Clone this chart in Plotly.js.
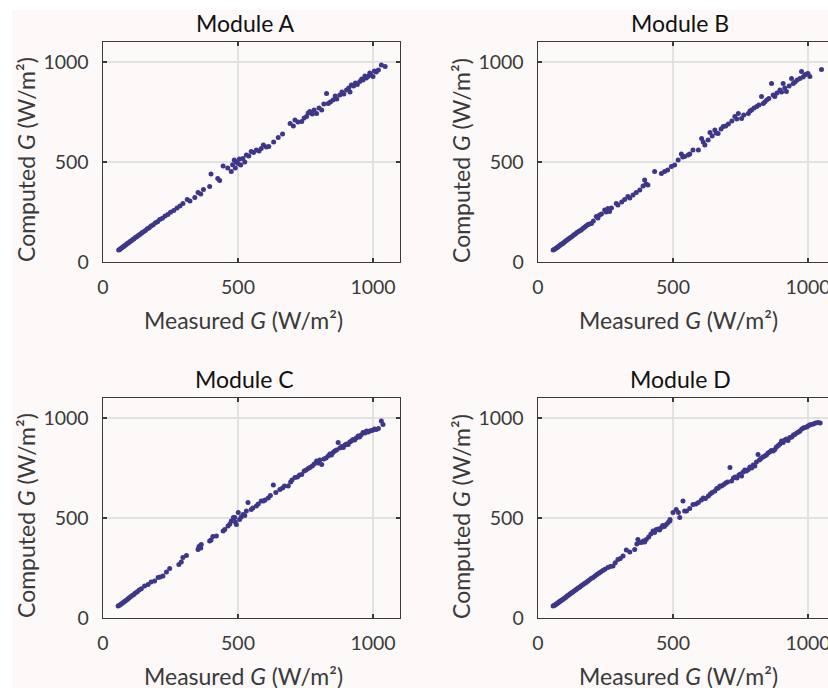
<!DOCTYPE html>
<html>
<head>
<meta charset="utf-8">
<script src="https://cdn.plot.ly/plotly-3.0.1.min.js"></script>
<style>
html,body{margin:0;padding:0;overflow:hidden;background:#fff;}
#chart{width:845px;height:688px;}
</style>
</head>
<body>
<div id="chart"></div>
<script>
// Data: [measured G, computed G] in W/m²
const moduleNames = ["Module A", "Module B", "Module C", "Module D"];
const tickValues = [0, 500, 1000];
const tickLabels = ["0", "500", "1000"];
const axisRange = [0, 1100];

const moduleA = [[58,60],[62,63],[66,68],[70,71],[74,76],[78,79],[82,84],[86,87],[90,92],[95,96],[100,102],[105,106],[110,112],[115,116],[120,122],[126,127],[132,134],[138,139],[144,146],[150,151],[157,158],[164,166],[171,171],[178,180],[186,186],[194,196],[202,201],[210,212],[220,219],[230,230],[240,238],[250,249],[262,258],[274,270],[285,280],[296,292],[312,312],[322,305],[340,323],[352,347],[362,340],[372,362],[395,378],[400,440],[425,418],[432,407],[445,480],[462,470],[475,452],[480,486],[486,510],[490,470],[494,500],[500,493],[505,515],[510,485],[518,518],[525,500],[531,535],[540,530],[549,552],[558,548],[568,560],[578,555],[586,568],[594,585],[605,575],[614,578],[632,600],[649,623],[665,640],[693,693],[705,680],[711,710],[722,700],[736,702],[745,720],[754,727],[760,745],[766,752],[775,740],[782,760],[791,743],[800,770],[810,760],[818,790],[828,843],[834,793],[842,800],[852,810],[860,830],[866,815],[877,835],[885,850],[892,840],[902,860],[910,870],[915,850],[920,885],[928,880],[935,895],[942,888],[951,902],[958,915],[963,910],[970,930],[975,920],[981,927],[988,945],[992,935],[1000,927],[1005,955],[1012,950],[1020,960],[1031,985],[1045,978]];

const moduleB = [[56,60],[60,63],[64,66],[68,70],[72,74],[76,78],[80,82],[84,86],[88,90],[92,93],[96,98],[100,103],[105,108],[110,112],[115,118],[120,123],[126,128],[132,135],[138,140],[144,147],[150,152],[156,158],[160,160],[166,168],[172,174],[178,180],[184,186],[190,190],[198,193],[205,205],[216,227],[222,220],[228,235],[235,240],[247,260],[252,250],[259,268],[265,252],[272,270],[290,293],[296,285],[310,300],[321,313],[333,327],[340,320],[352,335],[364,347],[377,360],[389,380],[395,410],[400,390],[407,385],[432,452],[457,443],[469,452],[480,460],[494,477],[506,485],[519,510],[531,540],[536,525],[543,527],[556,535],[562,540],[574,560],[594,560],[606,618],[612,600],[618,585],[630,610],[637,647],[645,630],[655,660],[660,645],[667,643],[678,665],[686,677],[695,680],[705,690],[718,705],[729,727],[736,715],[742,743],[754,718],[762,735],[779,743],[785,755],[791,760],[800,770],[810,777],[818,785],[828,827],[834,793],[840,800],[847,810],[855,818],[865,893],[871,835],[877,827],[885,845],[896,860],[902,850],[908,893],[914,870],[920,852],[930,880],[939,918],[945,893],[952,900],[960,910],[970,918],[976,952],[982,925],[988,935],[995,940],[1000,943],[1007,927],[1050,963]];

const moduleC = [[56,60],[61,64],[66,69],[71,74],[76,79],[81,84],[86,89],[91,94],[96,100],[102,106],[108,112],[114,118],[120,125],[127,131],[134,140],[142,146],[154,160],[167,168],[178,180],[191,185],[204,202],[212,205],[222,210],[235,230],[247,247],[281,268],[290,280],[296,302],[309,313],[352,343],[355,355],[358,360],[362,350],[364,368],[395,385],[400,390],[407,407],[420,410],[445,435],[451,443],[463,460],[470,470],[475,485],[483,502],[488,502],[490,480],[494,468],[501,527],[506,493],[512,505],[519,518],[525,512],[531,535],[537,577],[549,543],[555,550],[568,560],[575,570],[586,585],[594,585],[600,590],[612,600],[620,612],[631,665],[640,628],[655,643],[665,650],[672,660],[686,660],[695,680],[700,690],[711,702],[720,705],[728,715],[736,718],[745,735],[752,740],[760,748],[766,752],[775,760],[782,770],[791,785],[797,775],[803,790],[810,768],[818,795],[826,800],[834,810],[840,820],[846,815],[852,827],[858,835],[865,840],[871,877],[877,850],[884,858],[890,852],[896,865],[902,870],[908,868],[914,880],[920,885],[926,893],[932,890],[938,900],[945,910],[950,905],[956,915],[963,927],[970,925],[976,935],[982,930],[988,935],[995,938],[1000,940],[1006,945],[1012,943],[1020,948],[1031,985],[1037,968]];

const moduleD = [[56,60],[59,62],[62,64],[65,67],[68,70],[71,73],[74,76],[77,79],[80,82],[83,85],[86,88],[90,91],[94,95],[98,99],[102,103],[106,108],[110,112],[114,115],[118,120],[122,124],[126,128],[130,131],[135,136],[140,141],[145,146],[150,151],[155,155],[160,161],[166,166],[172,172],[178,178],[184,184],[190,190],[197,197],[204,203],[211,210],[218,217],[225,224],[232,230],[240,238],[248,244],[259,252],[268,258],[278,260],[286,276],[296,293],[305,298],[315,310],[327,340],[340,330],[358,343],[366,370],[370,393],[374,378],[383,377],[390,385],[395,380],[401,393],[410,405],[418,420],[426,435],[432,428],[438,443],[445,445],[450,440],[457,452],[462,462],[468,458],[475,468],[482,478],[488,485],[489,493],[500,527],[512,543],[520,527],[525,502],[537,585],[543,535],[550,535],[562,548],[574,568],[585,570],[594,577],[605,590],[612,600],[620,598],[631,610],[638,620],[645,628],[655,635],[662,648],[668,650],[674,660],[680,660],[688,668],[695,675],[702,680],[711,752],[717,685],[724,700],[730,705],[737,700],[744,715],[750,720],[754,710],[760,730],[766,740],[772,735],[779,743],[785,755],[791,750],[797,765],[803,760],[809,780],[815,818],[820,790],[826,798],[833,805],[840,810],[846,815],[852,825],[858,830],[864,838],[871,835],[877,843],[883,855],[890,862],[896,870],[902,885],[908,878],[914,890],[920,895],[926,888],[933,902],[940,905],[946,915],[951,918],[958,925],[965,930],[970,935],[977,945],[983,950],[988,952],[995,955],[1000,960],[1006,965],[1012,968],[1020,970],[1028,975],[1037,977],[1045,975]];

const moduleData = [moduleA, moduleB, moduleC, moduleD];

// ---- layout geometry (pixels) ----
const W = 845, H = 688;
const PW = 297, PH = 220;
const origins = [[103, 42], [538, 42], [103, 398], [538, 398]];
const fx = p => p / W;
const fy = p => 1 - p / H;

const FONT = "Lato, 'Open Sans', sans-serif";
const bg = "#fcf9f8";
const markerColor = "#3e3689";

const traces = [];
const layout = {
  width: W, height: H,
  margin: {l: 0, r: 0, t: 0, b: 0},
  paper_bgcolor: bg,
  plot_bgcolor: bg,
  showlegend: false,
  font: {family: FONT, color: "#333"},
  annotations: [],
  shapes: [
    {type: "rect", xref: "paper", yref: "paper", x0: 0, x1: fx(12), y0: 0, y1: 1, fillcolor: "#ffffff", line: {width: 0}, layer: "below"},
    {type: "rect", xref: "paper", yref: "paper", x0: 0, x1: 1, y0: fy(10), y1: 1, fillcolor: "#ffffff", line: {width: 0}, layer: "below"}
  ]
};

moduleData.forEach((pts, i) => {
  const n = i === 0 ? "" : String(i + 1);
  const [ox, oy] = origins[i];
  traces.push({
    type: "scatter", mode: "markers",
    x: pts.map(p => p[0]), y: pts.map(p => p[1]),
    xaxis: "x" + n, yaxis: "y" + n,
    marker: {color: markerColor, size: 5, line: {width: 0}},
    hoverinfo: "x+y"
  });
  const axCommon = {
    range: axisRange, tickvals: tickValues, ticktext: tickLabels,
    ticks: "inside", ticklen: 4, tickwidth: 1.3, tickcolor: "#3a3a3a",
    showline: true, linecolor: "#3a3a3a", linewidth: 1.4, mirror: "ticks",
    showgrid: true, gridcolor: "#e2e2e2", gridwidth: 1.6, zeroline: false,
    tickfont: {family: FONT, size: 19.5, color: "#3a3a3a"},
    fixedrange: true
  };
  layout["xaxis" + n] = Object.assign({}, axCommon, {
    domain: [fx(ox), fx(ox + PW)], anchor: "y" + n, ticklabelstandoff: 7
  });
  layout["yaxis" + n] = Object.assign({}, axCommon, {
    domain: [fy(oy + PH), fy(oy)], anchor: "x" + n, ticklabelstandoff: 9
  });
  // subplot title
  layout.annotations.push({
    xref: "paper", yref: "paper", x: fx(ox + 142), y: fy(oy - 19),
    xanchor: "center", yanchor: "middle", showarrow: false,
    text: moduleNames[i], font: {family: FONT, size: 23, color: "#111"}
  });
  // x-axis title
  layout.annotations.push({
    xref: "paper", yref: "paper", x: fx(ox + 140), y: fy(oy + PH + 58),
    xanchor: "center", yanchor: "middle", showarrow: false,
    text: "Measured <i>G</i> (W/m²)", font: {family: FONT, size: 23, color: "#3a3a3a"}
  });
  // y-axis title
  layout.annotations.push({
    xref: "paper", yref: "paper", x: fx(ox - 77), y: fy(oy + 118),
    xanchor: "center", yanchor: "middle", showarrow: false, textangle: -90,
    text: "Computed <i>G</i> (W/m²)", font: {family: FONT, size: 23, color: "#3a3a3a"}
  });
});

Plotly.newPlot("chart", traces, layout, {displayModeBar: false, staticPlot: true});
</script>
</body>
</html>
